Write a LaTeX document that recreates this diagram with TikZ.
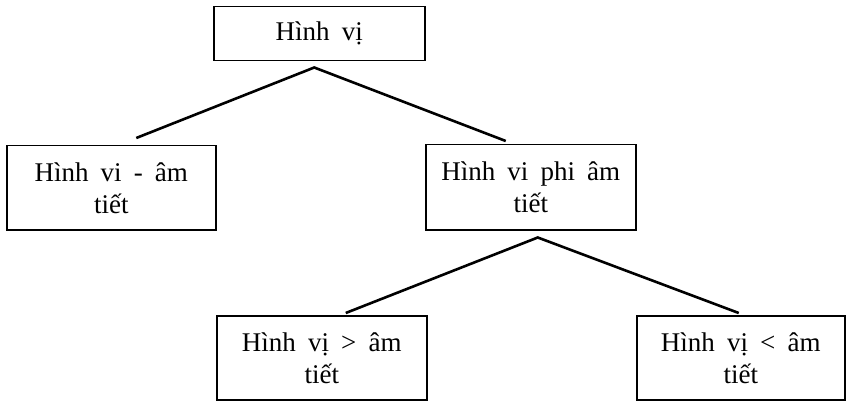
\documentclass[tikz,border=0pt]{standalone}
\usepackage{fontspec}
\setmainfont[WordSpace=1.8]{Liberation Serif}
\begin{document}
\begin{tikzpicture}[x=1pt,y=-1pt,
  box/.style={draw, line width=1.5pt, inner sep=0pt, align=center,
    anchor=north west, font=\fontsize{27}{32}\selectfont},
  link/.style={line width=2.6pt}]
\useasboundingbox (0,0) rectangle (846,401);
% boxes of the tree
\node[box, minimum width=211pt, minimum height=54pt] (top) at (213,6) {Hình vị};
\node[box, minimum width=209pt, minimum height=84pt] (left) at (6,145) {Hình vi - âm\\tiết};
\node[box, minimum width=210pt, minimum height=85pt] (right) at (425,144) {Hình vi phi âm\\tiết};
\node[box, minimum width=210pt, minimum height=84pt] (bl) at (216,315) {Hình vị > âm\\tiết};
\node[box, minimum width=208pt, minimum height=84pt] (br) at (636,315) {Hình vị < âm\\tiết};
% branches
\draw[link] ([xshift=25pt,yshift=7pt]left.north) -- ([xshift=-5pt,yshift=-6pt]top.south)
  -- ([xshift=-25pt,yshift=3pt]right.north);
\draw[link] ([xshift=24pt,yshift=2pt]bl.north) -- ([xshift=7pt,yshift=-7pt]right.south)
  -- ([xshift=-2pt,yshift=2pt]br.north);
\end{tikzpicture}
\end{document}
